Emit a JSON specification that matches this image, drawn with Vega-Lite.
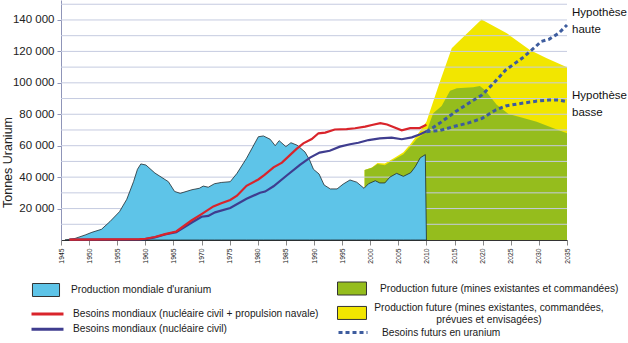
{
  "$schema": "https://vega.github.io/schema/vega-lite/v6.json",
  "width": 506,
  "height": 240,
  "autosize": {"type": "none"},
  "padding": {"left": 61, "top": 0, "right": 61, "bottom": 103},
  "background": "white",
  "config": {
    "view": {"stroke": null},
    "font": "Liberation Sans",
    "axis": {"labelOverlap": false, "labelFlush": false},
    "legend": {"padding": 0, "titlePadding": 0, "labelLimit": 400, "labelFont": "Liberation Sans", "labelFontSize": 10.2, "labelColor": "#1a1a1a"}
  },
  "datasets": {
    "grille": [
      {"v": 10000}, {"v": 20000}, {"v": 30000}, {"v": 40000}, {"v": 50000},
      {"v": 60000}, {"v": 70000}, {"v": 80000}, {"v": 90000}, {"v": 100000},
      {"v": 110000}, {"v": 120000}, {"v": 130000}, {"v": 140000}, {"v": 150000}
    ],
    "production": [
      {"year": 1945.7, "value": 0, "serie": "Production mondiale d'uranium"},
      {"year": 1947.5, "value": 1000, "serie": "Production mondiale d'uranium"},
      {"year": 1949.3, "value": 3200, "serie": "Production mondiale d'uranium"},
      {"year": 1950.5, "value": 4900, "serie": "Production mondiale d'uranium"},
      {"year": 1952.2, "value": 6800, "serie": "Production mondiale d'uranium"},
      {"year": 1953.7, "value": 11700, "serie": "Production mondiale d'uranium"},
      {"year": 1955.4, "value": 18000, "serie": "Production mondiale d'uranium"},
      {"year": 1956.7, "value": 25900, "serie": "Production mondiale d'uranium"},
      {"year": 1957.9, "value": 37100, "serie": "Production mondiale d'uranium"},
      {"year": 1958.6, "value": 45000, "serie": "Production mondiale d'uranium"},
      {"year": 1959.2, "value": 48400, "serie": "Production mondiale d'uranium"},
      {"year": 1960.1, "value": 47700, "serie": "Production mondiale d'uranium"},
      {"year": 1961.7, "value": 42600, "serie": "Production mondiale d'uranium"},
      {"year": 1964.1, "value": 37100, "serie": "Production mondiale d'uranium"},
      {"year": 1965.2, "value": 30900, "serie": "Production mondiale d'uranium"},
      {"year": 1966.2, "value": 29700, "serie": "Production mondiale d'uranium"},
      {"year": 1968.3, "value": 32000, "serie": "Production mondiale d'uranium"},
      {"year": 1969.6, "value": 32900, "serie": "Production mondiale d'uranium"},
      {"year": 1970.3, "value": 34300, "serie": "Production mondiale d'uranium"},
      {"year": 1971.2, "value": 33600, "serie": "Production mondiale d'uranium"},
      {"year": 1972.3, "value": 35800, "serie": "Production mondiale d'uranium"},
      {"year": 1973.5, "value": 36600, "serie": "Production mondiale d'uranium"},
      {"year": 1975.1, "value": 37100, "serie": "Production mondiale d'uranium"},
      {"year": 1976.3, "value": 42400, "serie": "Production mondiale d'uranium"},
      {"year": 1978.0, "value": 52000, "serie": "Production mondiale d'uranium"},
      {"year": 1980.1, "value": 65700, "serie": "Production mondiale d'uranium"},
      {"year": 1981.0, "value": 66200, "serie": "Production mondiale d'uranium"},
      {"year": 1982.2, "value": 64100, "serie": "Production mondiale d'uranium"},
      {"year": 1983.1, "value": 60000, "serie": "Production mondiale d'uranium"},
      {"year": 1983.8, "value": 63200, "serie": "Production mondiale d'uranium"},
      {"year": 1985.0, "value": 59400, "serie": "Production mondiale d'uranium"},
      {"year": 1985.9, "value": 61900, "serie": "Production mondiale d'uranium"},
      {"year": 1987.0, "value": 60300, "serie": "Production mondiale d'uranium"},
      {"year": 1988.4, "value": 56000, "serie": "Production mondiale d'uranium"},
      {"year": 1989.2, "value": 51000, "serie": "Production mondiale d'uranium"},
      {"year": 1989.9, "value": 45000, "serie": "Production mondiale d'uranium"},
      {"year": 1990.9, "value": 42000, "serie": "Production mondiale d'uranium"},
      {"year": 1991.8, "value": 35000, "serie": "Production mondiale d'uranium"},
      {"year": 1992.9, "value": 32500, "serie": "Production mondiale d'uranium"},
      {"year": 1994.1, "value": 32500, "serie": "Production mondiale d'uranium"},
      {"year": 1995.2, "value": 35600, "serie": "Production mondiale d'uranium"},
      {"year": 1996.4, "value": 38200, "serie": "Production mondiale d'uranium"},
      {"year": 1997.6, "value": 36800, "serie": "Production mondiale d'uranium"},
      {"year": 1998.9, "value": 32900, "serie": "Production mondiale d'uranium"},
      {"year": 1999.7, "value": 35800, "serie": "Production mondiale d'uranium"},
      {"year": 2000.9, "value": 37700, "serie": "Production mondiale d'uranium"},
      {"year": 2001.7, "value": 36300, "serie": "Production mondiale d'uranium"},
      {"year": 2002.6, "value": 36300, "serie": "Production mondiale d'uranium"},
      {"year": 2003.5, "value": 40000, "serie": "Production mondiale d'uranium"},
      {"year": 2004.7, "value": 42400, "serie": "Production mondiale d'uranium"},
      {"year": 2005.9, "value": 40500, "serie": "Production mondiale d'uranium"},
      {"year": 2007.2, "value": 42800, "serie": "Production mondiale d'uranium"},
      {"year": 2008.0, "value": 46600, "serie": "Production mondiale d'uranium"},
      {"year": 2008.9, "value": 52300, "serie": "Production mondiale d'uranium"},
      {"year": 2009.8, "value": 54300, "serie": "Production mondiale d'uranium"},
      {"year": 2010.0, "value": 0, "serie": "Production mondiale d'uranium"}
    ],
    "verte": [
      {"year": 1999.0, "value": 44500, "serie": "Production future (mines existantes et commandées)"},
      {"year": 2000.3, "value": 46000, "serie": "Production future (mines existantes et commandées)"},
      {"year": 2001.3, "value": 48300, "serie": "Production future (mines existantes et commandées)"},
      {"year": 2002.6, "value": 47600, "serie": "Production future (mines existantes et commandées)"},
      {"year": 2003.5, "value": 49600, "serie": "Production future (mines existantes et commandées)"},
      {"year": 2004.7, "value": 52200, "serie": "Production future (mines existantes et commandées)"},
      {"year": 2005.9, "value": 54500, "serie": "Production future (mines existantes et commandées)"},
      {"year": 2007.1, "value": 59400, "serie": "Production future (mines existantes et commandées)"},
      {"year": 2008.3, "value": 64500, "serie": "Production future (mines existantes et commandées)"},
      {"year": 2010.0, "value": 68900, "serie": "Production future (mines existantes et commandées)"},
      {"year": 2011.2, "value": 80600, "serie": "Production future (mines existantes et commandées)"},
      {"year": 2012.7, "value": 85300, "serie": "Production future (mines existantes et commandées)"},
      {"year": 2014.2, "value": 95000, "serie": "Production future (mines existantes et commandées)"},
      {"year": 2015.4, "value": 96500, "serie": "Production future (mines existantes et commandées)"},
      {"year": 2018.3, "value": 97200, "serie": "Production future (mines existantes et commandées)"},
      {"year": 2019.5, "value": 98000, "serie": "Production future (mines existantes et commandées)"},
      {"year": 2020.4, "value": 95500, "serie": "Production future (mines existantes et commandées)"},
      {"year": 2022.5, "value": 86000, "serie": "Production future (mines existantes et commandées)"},
      {"year": 2024.6, "value": 80200, "serie": "Production future (mines existantes et commandées)"},
      {"year": 2026.6, "value": 78200, "serie": "Production future (mines existantes et commandées)"},
      {"year": 2029.6, "value": 75300, "serie": "Production future (mines existantes et commandées)"},
      {"year": 2032.6, "value": 71100, "serie": "Production future (mines existantes et commandées)"},
      {"year": 2035.0, "value": 67900, "serie": "Production future (mines existantes et commandées)"}
    ],
    "jaune": [
      {"year": 1999.0, "value": 44500, "serie": "jaune"},
      {"year": 2000.3, "value": 46200, "serie": "jaune"},
      {"year": 2001.3, "value": 49000, "serie": "jaune"},
      {"year": 2002.6, "value": 48600, "serie": "jaune"},
      {"year": 2003.5, "value": 50600, "serie": "jaune"},
      {"year": 2004.7, "value": 53200, "serie": "jaune"},
      {"year": 2005.9, "value": 55800, "serie": "jaune"},
      {"year": 2007.1, "value": 60800, "serie": "jaune"},
      {"year": 2008.3, "value": 66500, "serie": "jaune"},
      {"year": 2010.0, "value": 75300, "serie": "jaune"},
      {"year": 2012.3, "value": 99700, "serie": "jaune"},
      {"year": 2014.5, "value": 122000, "serie": "jaune"},
      {"year": 2015.4, "value": 125200, "serie": "jaune"},
      {"year": 2019.8, "value": 140300, "serie": "jaune"},
      {"year": 2024.3, "value": 131500, "serie": "jaune"},
      {"year": 2028.4, "value": 120900, "serie": "jaune"},
      {"year": 2031.4, "value": 115600, "serie": "jaune"},
      {"year": 2035.0, "value": 109900, "serie": "jaune"}
    ],
    "besoins": [
      {"year": 1946.5, "value": 200, "serie": "Besoins mondiaux (nucléaire civil)"},
      {"year": 1959.0, "value": 400, "serie": "Besoins mondiaux (nucléaire civil)"},
      {"year": 1960.0, "value": 600, "serie": "Besoins mondiaux (nucléaire civil)"},
      {"year": 1961.7, "value": 1700, "serie": "Besoins mondiaux (nucléaire civil)"},
      {"year": 1963.5, "value": 3500, "serie": "Besoins mondiaux (nucléaire civil)"},
      {"year": 1965.5, "value": 5000, "serie": "Besoins mondiaux (nucléaire civil)"},
      {"year": 1968.2, "value": 11000, "serie": "Besoins mondiaux (nucléaire civil)"},
      {"year": 1970.0, "value": 14800, "serie": "Besoins mondiaux (nucléaire civil)"},
      {"year": 1971.2, "value": 15300, "serie": "Besoins mondiaux (nucléaire civil)"},
      {"year": 1972.4, "value": 17600, "serie": "Besoins mondiaux (nucléaire civil)"},
      {"year": 1975.1, "value": 20400, "serie": "Besoins mondiaux (nucléaire civil)"},
      {"year": 1978.0, "value": 26200, "serie": "Besoins mondiaux (nucléaire civil)"},
      {"year": 1980.4, "value": 30100, "serie": "Besoins mondiaux (nucléaire civil)"},
      {"year": 1981.3, "value": 30800, "serie": "Besoins mondiaux (nucléaire civil)"},
      {"year": 1982.8, "value": 34200, "serie": "Besoins mondiaux (nucléaire civil)"},
      {"year": 1985.2, "value": 41200, "serie": "Besoins mondiaux (nucléaire civil)"},
      {"year": 1987.5, "value": 47800, "serie": "Besoins mondiaux (nucléaire civil)"},
      {"year": 1989.3, "value": 52400, "serie": "Besoins mondiaux (nucléaire civil)"},
      {"year": 1991.0, "value": 55600, "serie": "Besoins mondiaux (nucléaire civil)"},
      {"year": 1992.8, "value": 56800, "serie": "Besoins mondiaux (nucléaire civil)"},
      {"year": 1994.6, "value": 59400, "serie": "Besoins mondiaux (nucléaire civil)"},
      {"year": 1996.4, "value": 60900, "serie": "Besoins mondiaux (nucléaire civil)"},
      {"year": 1997.9, "value": 61900, "serie": "Besoins mondiaux (nucléaire civil)"},
      {"year": 1999.7, "value": 63600, "serie": "Besoins mondiaux (nucléaire civil)"},
      {"year": 2001.7, "value": 64700, "serie": "Besoins mondiaux (nucléaire civil)"},
      {"year": 2003.8, "value": 65100, "serie": "Besoins mondiaux (nucléaire civil)"},
      {"year": 2005.6, "value": 64100, "serie": "Besoins mondiaux (nucléaire civil)"},
      {"year": 2007.4, "value": 65300, "serie": "Besoins mondiaux (nucléaire civil)"},
      {"year": 2008.9, "value": 67300, "serie": "Besoins mondiaux (nucléaire civil)"},
      {"year": 2010.0, "value": 69200, "serie": "Besoins mondiaux (nucléaire civil)"},
      {"year": 1946.5, "value": 300, "serie": "Besoins mondiaux (nucléaire civil + propulsion navale)"},
      {"year": 1959.0, "value": 500, "serie": "Besoins mondiaux (nucléaire civil + propulsion navale)"},
      {"year": 1960.0, "value": 800, "serie": "Besoins mondiaux (nucléaire civil + propulsion navale)"},
      {"year": 1961.7, "value": 1900, "serie": "Besoins mondiaux (nucléaire civil + propulsion navale)"},
      {"year": 1963.5, "value": 3700, "serie": "Besoins mondiaux (nucléaire civil + propulsion navale)"},
      {"year": 1965.5, "value": 5400, "serie": "Besoins mondiaux (nucléaire civil + propulsion navale)"},
      {"year": 1968.2, "value": 12400, "serie": "Besoins mondiaux (nucléaire civil + propulsion navale)"},
      {"year": 1970.0, "value": 16500, "serie": "Besoins mondiaux (nucléaire civil + propulsion navale)"},
      {"year": 1972.1, "value": 21400, "serie": "Besoins mondiaux (nucléaire civil + propulsion navale)"},
      {"year": 1973.5, "value": 23400, "serie": "Besoins mondiaux (nucléaire civil + propulsion navale)"},
      {"year": 1975.1, "value": 25500, "serie": "Besoins mondiaux (nucléaire civil + propulsion navale)"},
      {"year": 1976.3, "value": 28200, "serie": "Besoins mondiaux (nucléaire civil + propulsion navale)"},
      {"year": 1978.0, "value": 34500, "serie": "Besoins mondiaux (nucléaire civil + propulsion navale)"},
      {"year": 1980.1, "value": 38500, "serie": "Besoins mondiaux (nucléaire civil + propulsion navale)"},
      {"year": 1981.2, "value": 41400, "serie": "Besoins mondiaux (nucléaire civil + propulsion navale)"},
      {"year": 1982.8, "value": 46200, "serie": "Besoins mondiaux (nucléaire civil + propulsion navale)"},
      {"year": 1984.3, "value": 49200, "serie": "Besoins mondiaux (nucléaire civil + propulsion navale)"},
      {"year": 1986.9, "value": 58000, "serie": "Besoins mondiaux (nucléaire civil + propulsion navale)"},
      {"year": 1988.1, "value": 61500, "serie": "Besoins mondiaux (nucléaire civil + propulsion navale)"},
      {"year": 1989.6, "value": 64200, "serie": "Besoins mondiaux (nucléaire civil + propulsion navale)"},
      {"year": 1990.8, "value": 67900, "serie": "Besoins mondiaux (nucléaire civil + propulsion navale)"},
      {"year": 1992.0, "value": 68300, "serie": "Besoins mondiaux (nucléaire civil + propulsion navale)"},
      {"year": 1993.7, "value": 70300, "serie": "Besoins mondiaux (nucléaire civil + propulsion navale)"},
      {"year": 1995.8, "value": 70600, "serie": "Besoins mondiaux (nucléaire civil + propulsion navale)"},
      {"year": 1997.3, "value": 71100, "serie": "Besoins mondiaux (nucléaire civil + propulsion navale)"},
      {"year": 1999.1, "value": 72100, "serie": "Besoins mondiaux (nucléaire civil + propulsion navale)"},
      {"year": 2000.3, "value": 73200, "serie": "Besoins mondiaux (nucléaire civil + propulsion navale)"},
      {"year": 2001.8, "value": 74300, "serie": "Besoins mondiaux (nucléaire civil + propulsion navale)"},
      {"year": 2003.0, "value": 73500, "serie": "Besoins mondiaux (nucléaire civil + propulsion navale)"},
      {"year": 2005.6, "value": 69800, "serie": "Besoins mondiaux (nucléaire civil + propulsion navale)"},
      {"year": 2007.1, "value": 71200, "serie": "Besoins mondiaux (nucléaire civil + propulsion navale)"},
      {"year": 2008.8, "value": 71200, "serie": "Besoins mondiaux (nucléaire civil + propulsion navale)"},
      {"year": 2010.0, "value": 73300, "serie": "Besoins mondiaux (nucléaire civil + propulsion navale)"}
    ],
    "futurs": [
      {"year": 2010.0, "value": 68900, "serie": "haute"},
      {"year": 2012.3, "value": 74200, "serie": "haute"},
      {"year": 2015.2, "value": 81700, "serie": "haute"},
      {"year": 2017.5, "value": 87000, "serie": "haute"},
      {"year": 2019.9, "value": 92300, "serie": "haute"},
      {"year": 2022.0, "value": 100000, "serie": "haute"},
      {"year": 2024.1, "value": 108200, "serie": "haute"},
      {"year": 2027.0, "value": 115600, "serie": "haute"},
      {"year": 2029.4, "value": 123000, "serie": "haute"},
      {"year": 2030.4, "value": 126300, "serie": "haute"},
      {"year": 2031.8, "value": 127700, "serie": "haute"},
      {"year": 2033.5, "value": 131500, "serie": "haute"},
      {"year": 2035.0, "value": 136800, "serie": "haute"},
      {"year": 2010.0, "value": 68900, "serie": "basse"},
      {"year": 2012.3, "value": 69600, "serie": "basse"},
      {"year": 2015.2, "value": 72500, "serie": "basse"},
      {"year": 2017.5, "value": 74500, "serie": "basse"},
      {"year": 2019.9, "value": 77400, "serie": "basse"},
      {"year": 2022.3, "value": 82700, "serie": "basse"},
      {"year": 2024.1, "value": 85300, "serie": "basse"},
      {"year": 2027.0, "value": 87000, "serie": "basse"},
      {"year": 2029.5, "value": 88300, "serie": "basse"},
      {"year": 2031.8, "value": 89100, "serie": "basse"},
      {"year": 2033.5, "value": 89100, "serie": "basse"},
      {"year": 2035.0, "value": 88000, "serie": "basse"}
    ],
    "hyp": [
      {"year": 2035, "value": 148300, "label": ["Hypothèse", "haute"]},
      {"year": 2035, "value": 95500, "label": ["Hypothèse", "basse"]}
    ]
  },
  "resolve": {"scale": {"fill": "independent", "stroke": "independent"}, "axis": {"x": "independent", "y": "independent"}},
  "layer": [
    {
      "data": {"name": "jaune"},
      "mark": {"type": "area", "interpolate": "linear"},
      "encoding": {
        "x": {"field": "year", "type": "quantitative", "scale": {"domain": [1945, 2035], "nice": false, "zero": false},
          "axis": {"title": null, "values": [1945, 1950, 1955, 1960, 1965, 1970, 1975, 1980, 1985, 1990, 1995, 2000, 2005, 2010, 2015, 2020, 2025, 2030, 2035],
            "format": "d", "labelAngle": 270, "labelFont": "Liberation Sans", "labelFontSize": 6.8, "labelColor": "#222",
            "labelPadding": 3, "tickSize": 5, "tickColor": "#888", "domainColor": "#333", "grid": false, "labelFlush": false, "labelOverlap": false}},
        "y": {"field": "value", "type": "quantitative", "scale": {"domain": [0, 152700], "nice": false},
          "axis": {"title": "Tonnes Uranium", "values": [20000, 40000, 60000, 80000, 100000, 120000, 140000],
            "labelExpr": "replace(format(datum.value, ','), ',', ' ')", "labelFontSize": 11.5, "labelColor": "#222",
            "labelOverlap": false, "labelFlush": false,
            "labelPadding": 3, "tickSize": 4, "tickColor": "#8f95b8", "domainColor": "#8f95b8", "grid": false,
            "titleFontSize": 12.5, "titleFontWeight": "normal", "titleColor": "#222", "titleAngle": 270,
            "titleX": -54, "titleY": 162, "titleAlign": "center", "titleBaseline": "middle"}},
        "fill": {"field": "serie", "type": "nominal", "scale": {"domain": ["jaune"], "range": ["#f2e600"]},
          "legend": {"title": null, "orient": "none", "legendX": 284, "legendY": 296, "direction": "vertical",
            "symbolType": "M-2.23,0.53H2.23V2.53H-2.23Z", "symbolSize": 169, "symbolStrokeColor": "#333", "symbolStrokeWidth": 1,
            "labelOffset": 130, "labelAlign": "center", "labelBaseline": "top", "labelLineHeight": 15,
            "labelExpr": "['Production future (mines existantes, commandées,', 'prévues et envisagées)']"}}
      }
    },
    {
      "data": {"name": "verte"},
      "mark": {"type": "area", "interpolate": "linear"},
      "encoding": {
        "x": {"field": "year", "type": "quantitative", "axis": null},
        "y": {"field": "value", "type": "quantitative", "axis": null},
        "fill": {"field": "serie", "type": "nominal", "scale": {"range": ["#95bd1d"]},
          "legend": {"title": null, "orient": "none", "legendX": 284, "legendY": 281.5, "direction": "vertical",
            "symbolType": "M-2.23,-1H2.23V1H-2.23Z", "symbolSize": 169, "symbolStrokeColor": "#333", "symbolStrokeWidth": 1,
            "labelOffset": 21}}
      }
    },
    {
      "data": {"name": "grille"},
      "mark": {"type": "rule", "color": "#c5cbe0", "strokeWidth": 1},
      "encoding": {"y": {"field": "v", "type": "quantitative", "axis": null}}
    },
    {
      "data": {"name": "production"},
      "mark": {"type": "area", "interpolate": "linear", "stroke": "#1f2b30", "strokeWidth": 0.8},
      "encoding": {
        "x": {"field": "year", "type": "quantitative", "axis": null},
        "y": {"field": "value", "type": "quantitative", "axis": null},
        "fill": {"field": "serie", "type": "nominal", "scale": {"range": ["#5ec4e8"]},
          "legend": {"title": null, "orient": "none", "legendX": -22, "legendY": 283, "direction": "vertical",
            "symbolType": "M-2.08,-1H2.08V1H-2.08Z", "symbolSize": 169, "symbolStrokeColor": "#333", "symbolStrokeWidth": 1,
            "labelOffset": 18}}
      }
    },
    {
      "data": {"name": "besoins"},
      "mark": {"type": "line", "strokeWidth": 2.2, "interpolate": "linear"},
      "encoding": {
        "x": {"field": "year", "type": "quantitative", "axis": null},
        "y": {"field": "value", "type": "quantitative", "axis": null},
        "stroke": {"field": "serie", "type": "nominal",
          "scale": {"domain": ["Besoins mondiaux (nucléaire civil + propulsion navale)", "Besoins mondiaux (nucléaire civil)"], "range": ["#d9242b", "#3f3d8f"]},
          "legend": {"title": null, "orient": "none", "legendX": -21.5, "legendY": 306, "direction": "vertical",
            "symbolType": "M-2.46,0H2.46", "symbolSize": 169, "symbolStrokeWidth": 3, "rowPadding": 1.3,
            "labelOffset": 17.5}}
      }
    },
    {
      "data": {"name": "futurs"},
      "mark": {"type": "line", "strokeWidth": 3, "strokeDash": [4, 3], "interpolate": "linear"},
      "encoding": {
        "x": {"field": "year", "type": "quantitative", "axis": null},
        "y": {"field": "value", "type": "quantitative", "axis": null},
        "detail": {"field": "serie", "type": "nominal"},
        "stroke": {"datum": "Besoins futurs en uranium", "type": "nominal", "scale": {"range": ["#3d5c9e"]},
          "legend": {"title": null, "orient": "none", "legendX": 284, "legendY": 324.5, "direction": "vertical",
            "symbolType": "M-2.23,0H2.23", "symbolSize": 169, "symbolStrokeWidth": 3, "symbolDash": [4, 3],
            "labelOffset": 21}}
      }
    },
    {
      "mark": {"type": "rule", "color": "#333", "strokeWidth": 1.2},
      "encoding": {"x": {"datum": 2035, "type": "quantitative", "axis": null}}
    },
    {
      "data": {"name": "hyp"},
      "mark": {"type": "text", "align": "left", "baseline": "top", "dx": 5, "fontSize": 11.5, "lineHeight": 17, "color": "#111", "font": "Liberation Sans"},
      "encoding": {
        "x": {"field": "year", "type": "quantitative", "axis": null},
        "y": {"field": "value", "type": "quantitative", "axis": null},
        "text": {"field": "label"}
      }
    }
  ]
}
